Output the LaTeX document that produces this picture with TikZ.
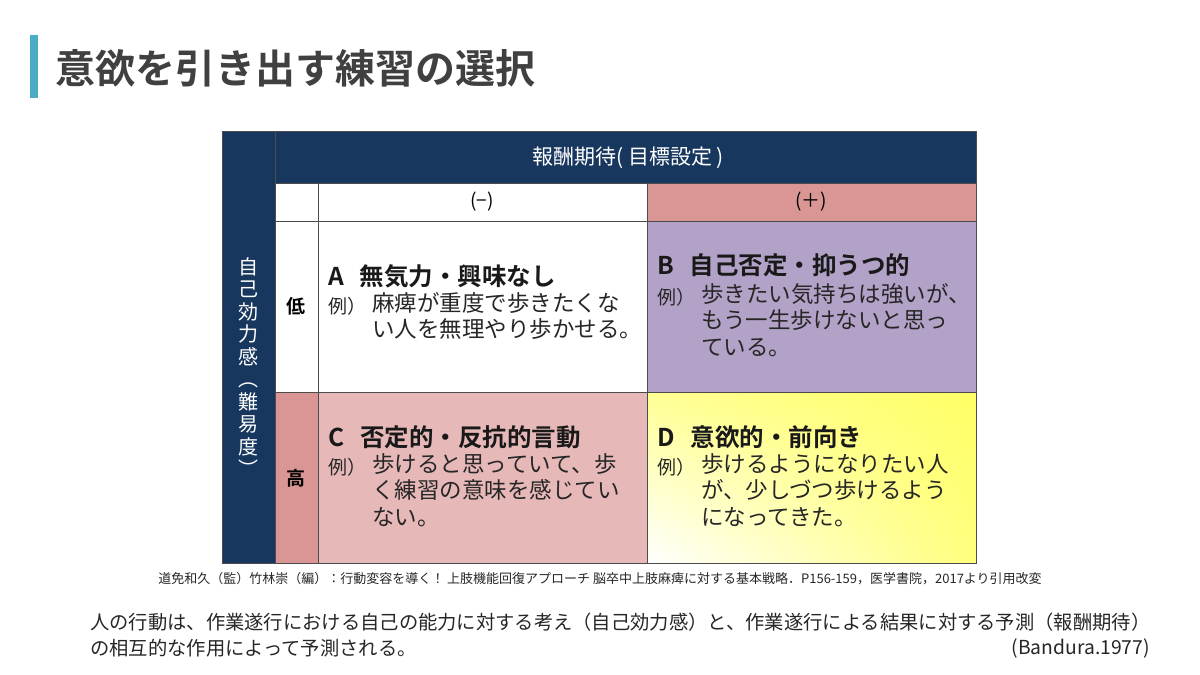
\documentclass[tikz,border=0pt]{standalone}
\usepackage{fontspec}
\usetikzlibrary{shadings}
\setmainfont{Noto Sans CJK JP}
\newfontfamily\jpb{Noto Sans CJK JP Bold}
\begin{document}
\begin{tikzpicture}[x=1pt,y=-1pt,
 txt/.style={anchor=west,inner sep=0pt,font=\fontsize{22.5}{26.5}\selectfont,text=black!85},
 bt/.style={anchor=west,inner sep=0pt,font=\fontsize{19.3}{22}\selectfont,text=black!85},
 hd/.style={anchor=west,inner sep=0pt,font=\jpb\fontsize{24.5}{28}\selectfont,text=black!90},
 bx/.style={draw=black!70,line width=0.6pt}]
\useasboundingbox (0,0) rectangle (1200,675);
\definecolor{navy}{HTML}{17375E}
\definecolor{pk}{HTML}{D99694}
\definecolor{lpk}{HTML}{E6B9B8}
\definecolor{pur}{HTML}{B3A2C7}
\definecolor{yel}{HTML}{FFFF66}
\fill[color={rgb,255:red,75;green,172;blue,198}] (30,35) rectangle (38,98);
\node (title) [anchor=west,font=\jpb\fontsize{40}{44}\selectfont,text=black!75] at (52,68) {意欲を引き出す練習の選択};
% cells
\fill[navy] (222,131) rectangle (976,183);
\fill[navy] (222,183) rectangle (275,563);
\fill[pk] (647,183) rectangle (976,221);
\fill[pur] (647,221) rectangle (976,392);
\fill[pk] (275,392) rectangle (318,563);
\fill[lpk] (318,392) rectangle (647,563);
\shade[lower left=white,upper right=yel,lower right=yel!85,upper left=yel!70] (647,563) rectangle (976,392);
\draw[bx] (222,131) rectangle (976,563);
\draw[bx] (275,131) -- (275,563);
\draw[bx] (275,183) -- (976,183);
\draw[bx] (275,221) -- (976,221);
\draw[bx] (275,392) -- (976,392);
\draw[bx] (318,183) -- (318,563);
\draw[bx] (647,183) -- (647,563);
\node (h) [text=white,font=\fontsize{21}{24}\selectfont] at (628,158) {報酬期待( 目標設定 )};
\node (neg) [font=\fontsize{19}{22}\selectfont] at (482,202) {(−)};
\node (pos) [font=\fontsize{19}{22}\selectfont] at (811,202) {(＋)};
\node (lo) [font=\jpb\fontsize{19}{22}\selectfont] at (296,306) {低};
\node (hi) [font=\jpb\fontsize{19}{22}\selectfont] at (296,478) {高};
\node (v) [text=white,font=\fontsize{20}{22.5}\selectfont,align=center] at (248,367) {自\\己\\効\\力\\感\\︵\\難\\易\\度\\︶};
% A
\node (ah) [hd] at (328,276) {A\hspace{16pt}無気力・興味なし};
\node (ar) [txt,font=\fontsize{19}{22}\selectfont] at (328,306) {例）};
\node (ab) [txt,anchor=north west] at (372,292) {\parbox[t]{270pt}{麻痺が重度で歩きたくな\\い人を無理やり歩かせる。}};
% B
\node (bh) [hd] at (657,265) {B\hspace{16pt}自己否定・抑うつ的};
\node (br) [txt,font=\fontsize{19}{22}\selectfont] at (657,297) {例）};
\node (bb) [txt,anchor=north west] at (701,283) {\parbox[t]{270pt}{歩きたい気持ちは強いが、\\もう一生歩けないと思っ\\ている。}};
% C
\node (ch) [hd] at (328,437) {C\hspace{16pt}否定的・反抗的言動};
\node (cr) [txt,font=\fontsize{19}{22}\selectfont] at (328,467) {例）};
\node (cb) [txt,anchor=north west] at (372,453) {\parbox[t]{270pt}{歩けると思っていて、歩\\く練習の意味を感じてい\\ない。}};
% D
\node (dh) [hd] at (657,437) {D\hspace{16pt}意欲的・前向き};
\node (dr) [txt,font=\fontsize{19}{22}\selectfont] at (657,467) {例）};
\node (db) [txt,anchor=north west] at (701,453) {\parbox[t]{270pt}{歩けるようになりたい人\\が、少しづつ歩けるよう\\になってきた。}};
\node (cite) [font=\fontsize{13}{15}\selectfont,text=black!85] at (600,579) {道免和久（監）竹林崇（編）：行動変容を導く！ 上肢機能回復アプローチ 脳卒中上肢麻痺に対する基本戦略．P156-159，医学書院，2017より引用改変};
\node (l1) [bt] at (90,622) {人の行動は、作業遂行における自己の能力に対する考え（自己効力感）と、作業遂行による結果に対する予測（報酬期待）};
\node (l2) [bt] at (90,648) {の相互的な作用によって予測される。};
\node (bd) [bt,anchor=east] at (1150,648) {(Bandura.1977)};
\end{tikzpicture}
\end{document}
